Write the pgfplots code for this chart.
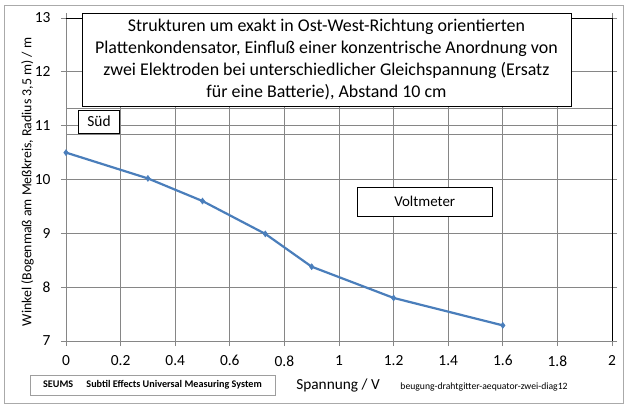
\documentclass[border=0pt]{standalone}
\usepackage{pgfplots}
\pgfplotsset{compat=1.18}
\usepackage{fontspec}
\setmainfont{Carlito}
\definecolor{lineblue}{RGB}{74,126,187}
\definecolor{gridgray}{RGB}{134,134,134}
\begin{document}
\begin{tikzpicture}[x=1bp,y=1bp]
\path[use as bounding box] (-66,-71) rectangle (565,341);
\draw[gridgray!70, line width=1bp] (-61,-62) rectangle (557,336);
\begin{axis}[
  at={(0,0)}, anchor=south west,
  scale only axis, width=546bp, height=323bp,
  xmin=0, xmax=2, ymin=7, ymax=13,
  xtick={0,0.2,...,2}, ytick={7,8,...,13},
  xticklabels={0,0.2,0.4,0.6,0.8,1,1.2,1.4,1.6,1.8,2},
  grid=major,
  major grid style={gridgray, line width=0.8bp},
  axis line style={gridgray, line width=0.8bp},
  tick style={gridgray, line width=0.8bp},
  tick align=outside, major tick length=5bp,
  ticklabel style={font=\fontsize{15.5}{17}\selectfont},
  /pgf/number format/assume math mode=true,
  xticklabel style={yshift=-6bp},
  yticklabel style={xshift=-7bp},
  clip=false,
]
\draw[gridgray, line width=1bp] (axis cs:0,11.31) -- (axis cs:2,11.31);
\draw[gridgray, line width=1bp] (axis cs:0,10.83) -- (axis cs:2,10.83);
\draw[black, line width=0.8bp] (axis cs:0,13) -- (axis cs:2,13) -- (axis cs:2,7);
\addplot[color=lineblue, line width=2.2bp, mark=diamond*, mark size=3bp, mark options={fill=lineblue, line width=0.5bp}] coordinates {
(0,10.5) (0.3,10.02) (0.5,9.6) (0.73,8.99) (0.9,8.38) (1.2,7.8) (1.6,7.29)
};
\node[draw=black, fill=white, line width=0.8bp, minimum width=489bp, minimum height=93bp, align=center, font=\fontsize{18}{22.3}\selectfont, inner sep=0pt] at (axis cs:0.954,12.23)
{Strukturen um exakt in Ost-West-Richtung orientierten\\Plattenkondensator, Einflu\ss{} einer konzentrische Anordnung von\\zwei Elektroden bei unterschiedlicher Gleichspannung (Ersatz\\f\"ur eine Batterie), Abstand 10 cm};
\node[draw=black, fill=white, line width=0.8bp, minimum width=41bp, minimum height=23bp, inner sep=0pt, font=\fontsize{15.5}{17}\selectfont] at (axis cs:0.121,11.076) {S\"ud};
\node[draw=black, fill=white, line width=0.8bp, minimum width=135bp, minimum height=29bp, inner sep=0pt, font=\fontsize{15}{17}\selectfont] at (axis cs:1.314,9.585) {Voltmeter};
\end{axis}
\node[rotate=90, font=\fontsize{13.9}{15}\selectfont] at (-38.5,159) {Winkel (Bogenma\ss{} am Me\ss{}kreis, Radius 3,5 m) / m};
\node[font=\fontsize{15.4}{17}\selectfont] at (272,-44) {Spannung / V};
\node[draw=gridgray!80, line width=0.8bp, minimum width=245bp, minimum height=20bp, inner sep=0pt, font=\fontsize{10.2}{12}\selectfont\bfseries] at (86.5,-44) {SEUMS\hspace{1.3em}Subtil Effects Universal Measuring System};
\node[font=\fontsize{9.7}{11}\selectfont] at (418,-46) {beugung-drahtgitter-aequator-zwei-diag12};
\end{tikzpicture}
\end{document}
